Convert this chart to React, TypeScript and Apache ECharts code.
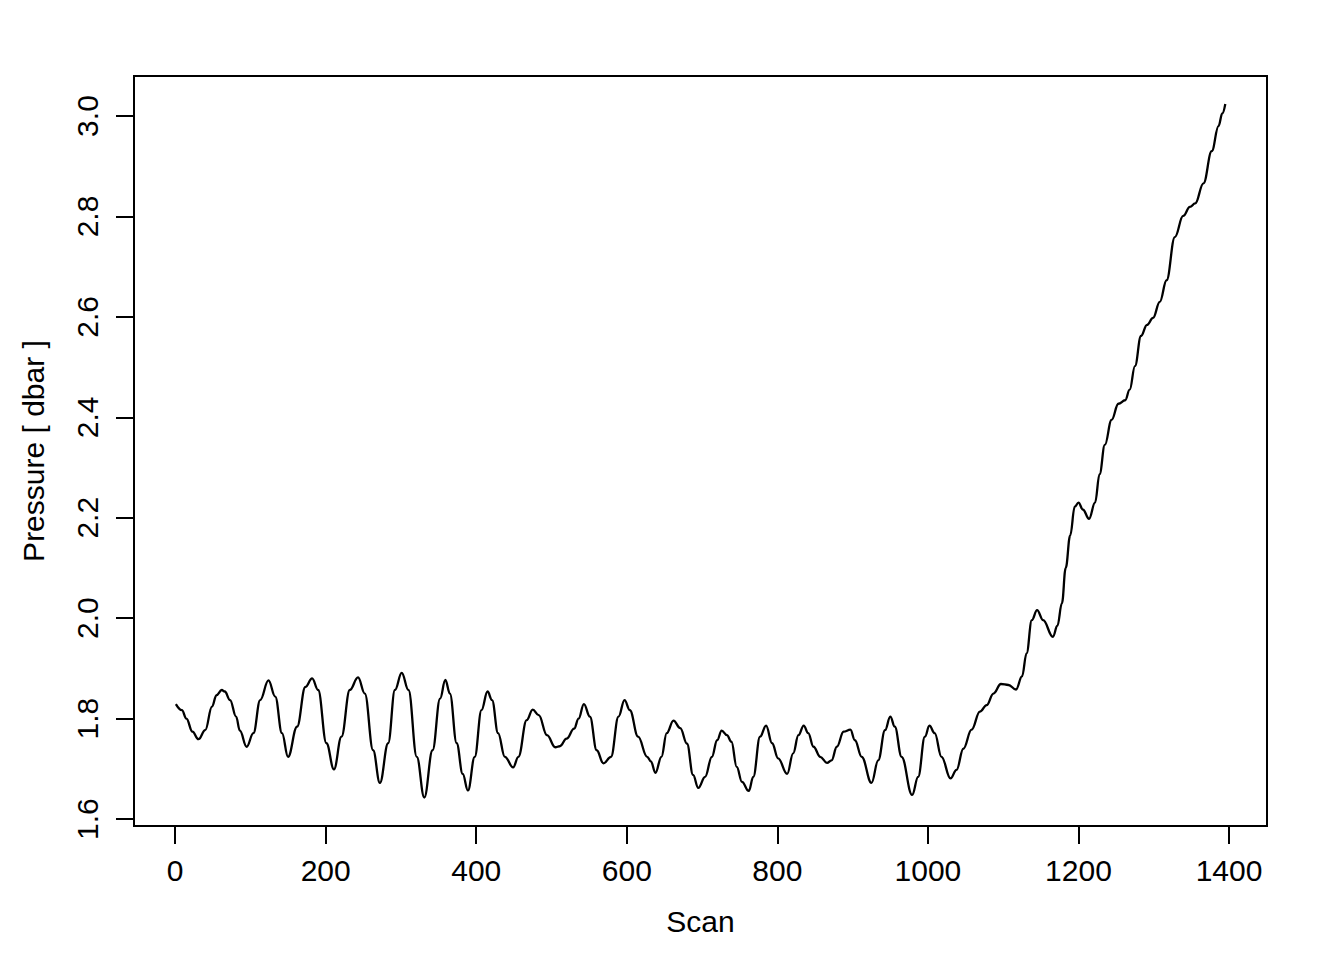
import React, { useEffect, useRef } from "react";
import * as echarts from "echarts";

const scans: number[] = [
  1, 9, 15, 23, 31, 40, 49, 55, 62, 66, 73, 81, 86, 95, 104, 113, 124, 133, 142, 150,
  162, 173, 182, 190, 201, 211, 221, 232, 243, 252, 263, 272, 283, 292, 301, 310, 321, 331, 342, 352,
  359, 365, 374, 382, 389, 398, 407, 415, 421, 429, 438, 449, 456, 467, 475, 483, 494, 505, 511, 520,
  530, 536, 543, 551, 560, 569, 579, 589, 597, 604, 615, 627, 632, 638, 646, 653, 662, 671, 680, 688,
  695, 704, 713, 720, 726, 733, 739, 746, 753, 762, 768, 777, 785, 793, 801, 813, 821, 828, 835, 841,
  848, 857, 866, 872, 879, 888, 897, 903, 912, 925, 934, 943, 950, 956, 965, 979, 987, 996, 1002, 1009,
  1018, 1030, 1038, 1047, 1058, 1069, 1078, 1087, 1097, 1107, 1117, 1125, 1131, 1138, 1145, 1153, 1166, 1172, 1178, 1183,
  1189, 1195, 1200, 1206, 1214, 1222, 1228, 1235, 1244, 1253, 1262, 1268, 1275, 1283, 1291, 1299, 1308, 1317, 1328, 1339,
  1348, 1355, 1366, 1377, 1386, 1391, 1395,
];

const pressure: number[] = [
  1.829, 1.817, 1.8, 1.774, 1.759, 1.777, 1.824, 1.847, 1.857, 1.854, 1.837, 1.804, 1.776, 1.744, 1.771, 1.837, 1.876, 1.844, 1.771, 1.724,
  1.784, 1.863, 1.88, 1.857, 1.751, 1.699, 1.764, 1.857, 1.882, 1.85, 1.737, 1.672, 1.751, 1.857, 1.891, 1.857, 1.724, 1.643, 1.737, 1.84,
  1.877, 1.85, 1.751, 1.69, 1.657, 1.724, 1.817, 1.854, 1.837, 1.771, 1.724, 1.703, 1.724, 1.797, 1.818, 1.807, 1.767, 1.743, 1.745, 1.76,
  1.78, 1.8, 1.829, 1.804, 1.737, 1.711, 1.724, 1.804, 1.837, 1.817, 1.764, 1.724, 1.715, 1.692, 1.724, 1.771, 1.796, 1.781, 1.75, 1.688,
  1.662, 1.684, 1.724, 1.757, 1.776, 1.767, 1.754, 1.704, 1.674, 1.656, 1.684, 1.764, 1.786, 1.751, 1.721, 1.69, 1.731, 1.767, 1.786, 1.771,
  1.744, 1.724, 1.712, 1.717, 1.744, 1.774, 1.778, 1.757, 1.724, 1.672, 1.717, 1.777, 1.804, 1.784, 1.724, 1.648, 1.684, 1.764, 1.786, 1.771,
  1.724, 1.681, 1.698, 1.74, 1.778, 1.814, 1.827, 1.85, 1.869, 1.867, 1.858, 1.884, 1.93, 1.996, 2.016, 1.996, 1.963, 1.985, 2.03, 2.1,
  2.165, 2.222, 2.23, 2.216, 2.198, 2.23, 2.287, 2.345, 2.395, 2.427, 2.434, 2.455, 2.502, 2.562, 2.584, 2.598, 2.63, 2.673, 2.759, 2.801,
  2.819, 2.826, 2.866, 2.93, 2.98, 3.005, 3.024,
];

const xTicks: number[] = [0, 200, 400, 600, 800, 1000, 1200, 1400];
const yTicks: number[] = [1.6, 1.8, 2.0, 2.2, 2.4, 2.6, 2.8, 3.0];

const FONT = "'Liberation Sans', Arial, Helvetica, sans-serif";

export default function App() {
  const ref = useRef<HTMLDivElement>(null);
  useEffect(() => {
    if (!ref.current) return;
    const chart = echarts.init(ref.current, undefined, { renderer: "svg" });
    const data = scans.map((s, i) => [s, pressure[i]]);
    chart.setOption({
      animation: false,
      backgroundColor: "#fff",
      grid: {
        left: 134,
        right: 77,
        top: 76,
        bottom: 134,
        show: true,
        borderColor: "#000",
        borderWidth: 2,
        backgroundColor: "transparent",
      },
      xAxis: {
        type: "value",
        min: -54.6,
        max: 1450.4,
        name: "Scan",
        nameLocation: "middle",
        nameGap: 80,
        nameTextStyle: { color: "#000", fontSize: 30, fontFamily: FONT },
        axisLine: { show: false, onZero: false },
        splitLine: { show: false },
        axisTick: {
          show: true,
          length: 18,
          lineStyle: { color: "#000", width: 2 },
          customValues: xTicks,
        },
        axisLabel: {
          color: "#000",
          fontSize: 30,
          fontFamily: FONT,
          margin: 29,
          customValues: xTicks,
          formatter: (v: number) => String(v),
        },
      },
      yAxis: {
        type: "value",
        min: 1.5862,
        max: 3.0797,
        name: "Pressure [ dbar ]",
        nameLocation: "middle",
        nameGap: 86,
        nameRotate: 90,
        nameTextStyle: { color: "#000", fontSize: 30, fontFamily: FONT },
        axisLine: { show: false, onZero: false },
        splitLine: { show: false },
        axisTick: {
          show: true,
          length: 18,
          lineStyle: { color: "#000", width: 2 },
          customValues: yTicks,
        },
        axisLabel: {
          color: "#000",
          fontSize: 30,
          fontFamily: FONT,
          rotate: 90,
          margin: 32,
          customValues: yTicks,
          formatter: (v: number) => v.toFixed(1),
        },
      },
      series: [
        {
          type: "line",
          data,
          showSymbol: false,
          smooth: 0.4,
          smoothMonotone: "x",
          lineStyle: { color: "#000", width: 2.3 },
        },
      ],
    });
    return () => chart.dispose();
  }, []);
  return (
    <div
      ref={ref}
      style={{ position: "absolute", left: 0, top: 0, width: 1344, height: 960, background: "#fff" }}
    />
  );
}
